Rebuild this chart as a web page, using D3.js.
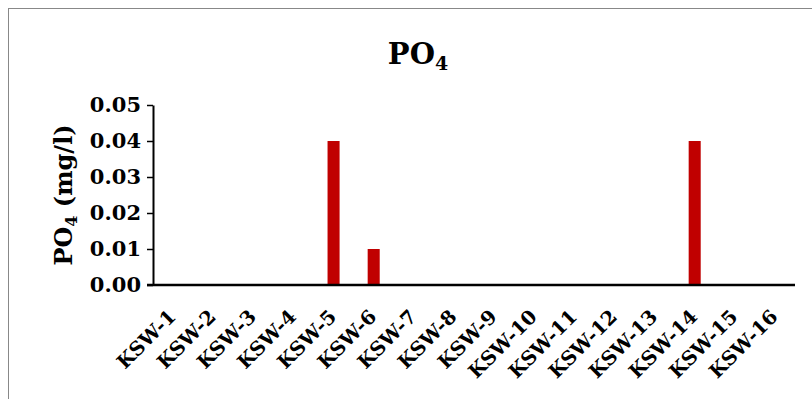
<!DOCTYPE html>
<html>
<head>
<meta charset="utf-8">
<script src="https://cdn.jsdelivr.net/npm/d3@7"></script>
<style>
  body { margin: 0; background: #fff; }
  text { font-family: "DejaVu Serif", "Liberation Serif", serif; font-weight: bold; fill: #000; }
</style>
</head>
<body>
<div id="graph"></div>
<script>
// stations et valeurs de PO4 (mg/l)
const stations = ["KSW-1", "KSW-2", "KSW-3", "KSW-4", "KSW-5", "KSW-6", "KSW-7", "KSW-8",
  "KSW-9", "KSW-10", "KSW-11", "KSW-12", "KSW-13", "KSW-14", "KSW-15", "KSW-16"]
const po4 = [0, 0, 0, 0, 0.04, 0.01, 0, 0, 0, 0, 0, 0, 0, 0.04, 0, 0]
const yTicks = [0, 0.01, 0.02, 0.03, 0.04, 0.05]

const W = 812, H = 399
const margin = { top: 105, right: 17, bottom: 114, left: 153 }
const width = W - margin.left - margin.right
const height = H - margin.top - margin.bottom

const root = d3.select("#graph").append("svg")
  .attr("width", W)
  .attr("height", H)

// cadre du graphique
root.append("rect")
  .attr("x", 8.5).attr("y", 8.5)
  .attr("width", W).attr("height", H)
  .attr("fill", "none")
  .attr("stroke", "#888")

// titre
const title = root.append("text")
  .attr("x", 418).attr("y", 64)
  .attr("text-anchor", "middle")
  .style("font-size", "29px")
title.append("tspan").text("PO")
title.append("tspan").attr("dy", 6).style("font-size", "19px").text("4")

const svg = root.append("g")
  .attr("transform", "translate(" + margin.left + "," + margin.top + ")")

const x = d3.scaleBand()
  .domain(stations)
  .range([0, width])
  .paddingInner(0.7)
  .paddingOuter(0.35)

const y = d3.scaleLinear()
  .domain([0, 0.05])
  .range([height, 0])

// barres
svg.append("g")
  .selectAll("rect")
  .data(stations)
  .join("rect")
  .attr("x", d => x(d))
  .attr("width", x.bandwidth())
  .attr("y", (d, i) => y(po4[i]))
  .attr("height", (d, i) => height - y(po4[i]))
  .attr("fill", "#c00000")

// axe Y
const yAxis = svg.append("g")
  .call(d3.axisLeft(y).tickValues(yTicks).tickFormat(d3.format(".2f")).tickSize(6).tickSizeOuter(0))
yAxis.select(".domain").attr("stroke-width", 2)
yAxis.selectAll(".tick line").attr("stroke-width", 1.5)
yAxis.selectAll(".tick text").style("font-size", "21px").attr("x", -12)

// axe X
const xAxis = svg.append("g")
  .attr("transform", "translate(0," + height + ")")
  .call(d3.axisBottom(x).tickSize(0).tickSizeOuter(0))
xAxis.select(".domain").attr("stroke-width", 2.5).attr("d", "M-6,0H" + width)
xAxis.selectAll(".tick text")
  .style("font-size", "19.5px")
  .attr("text-anchor", "end")
  .attr("y", 0)
  .attr("dy", 0)
  .attr("transform", "translate(4,33) rotate(-45)")

// titre de l'axe Y
const yLabel = root.append("text")
  .attr("transform", "translate(72," + (margin.top + height / 2) + ") rotate(-90)")
  .attr("text-anchor", "middle")
  .style("font-size", "24px")
yLabel.append("tspan").text("PO")
yLabel.append("tspan").attr("dy", 5).style("font-size", "16px").text("4")
yLabel.append("tspan").attr("dy", -5).text(" (mg/l)")
</script>
</body>
</html>
